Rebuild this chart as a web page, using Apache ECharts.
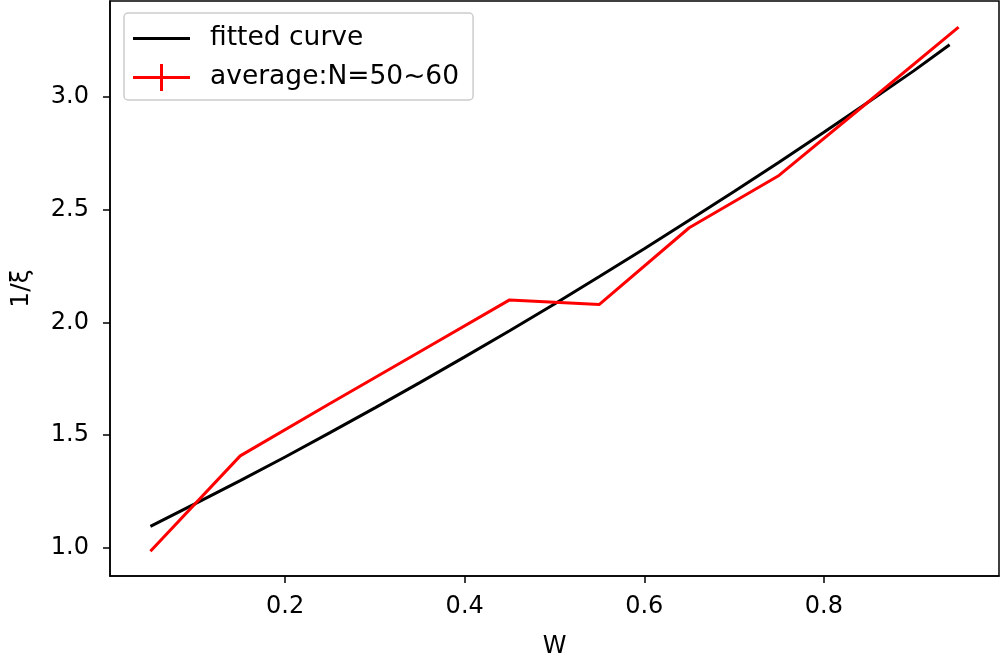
<!DOCTYPE html>
<html>
<head>
<meta charset="utf-8">
<script src="https://cdn.jsdelivr.net/npm/echarts@6/dist/echarts.min.js"></script>
<style>html,body{margin:0;padding:0;background:#fff}#c{width:1000px;height:664px}</style>
</head>
<body>
<div id="c"></div>
<script>
const fitW = [0.05, 0.10, 0.15, 0.20, 0.25, 0.30, 0.35, 0.40, 0.45, 0.50, 0.55, 0.60, 0.65, 0.70, 0.75, 0.80, 0.85, 0.90, 0.94];
const fitVal = [1.095, 1.196, 1.298, 1.403, 1.511, 1.621, 1.733, 1.847, 1.963, 2.082, 2.204, 2.327, 2.453, 2.581, 2.711, 2.844, 2.979, 3.116, 3.232];
const avgW = [0.05, 0.15, 0.25, 0.35, 0.45, 0.55, 0.65, 0.75, 0.85, 0.95];
const avgVal = [0.985, 1.408, 1.64, 1.87, 2.10, 2.08, 2.42, 2.652, 2.98, 3.31];
const xTicks = [0.2, 0.4, 0.6, 0.8];
const yTicks = [1.0, 1.5, 2.0, 2.5, 3.0];
const seriesNames = ['fitted curve', 'average:N=50~60'];

const FONT = 'DejaVu Sans';
const chart = echarts.init(document.getElementById('c'), null, {renderer: 'canvas'});
const pair = (xs, ys) => xs.map((x, i) => [x, ys[i]]);

chart.setOption({
  animation: false,
  backgroundColor: '#fff',
  textStyle: {fontFamily: FONT},
  grid: {left: 110, right: 1, top: 1, bottom: 84, show: true, borderColor: '#000', borderWidth: 1.5, containLabel: false},
  legend: {
    left: 124, top: 13,
    orient: 'vertical',
    padding: [12, 14, 9, 9],
    itemGap: 12,
    itemWidth: 57, itemHeight: 27,
    borderColor: '#cccccc', borderWidth: 1.5, borderRadius: 4,
    backgroundColor: '#fff',
    textStyle: {fontFamily: FONT, fontSize: 26.5, color: '#000', padding: [0, 0, 0, 15]},
    data: [
      {name: seriesNames[0], icon: 'path://M0,0 L0,0 Z M0,12 L57,12 L57,15 L0,15 Z M0,27 L0,27 Z'},
      {name: seriesNames[1], icon: 'path://M0,12 L27,12 L27,0 L30,0 L30,12 L57,12 L57,15 L30,15 L30,27 L27,27 L27,15 L0,15 Z'}
    ]
  },
  xAxis: {
    type: 'value', min: 0.005, max: 0.995,
    name: 'W', nameLocation: 'middle', nameGap: 59,
    nameTextStyle: {fontFamily: FONT, fontSize: 24, color: '#000'},
    splitLine: {show: false},
    axisLine: {show: true, lineStyle: {color: '#000', width: 1.5}},
    axisTick: {show: true, length: 7, lineStyle: {color: '#000', width: 1.5}, customValues: xTicks},
    axisLabel: {fontFamily: FONT, fontSize: 24, color: '#000', margin: 19, customValues: xTicks, formatter: v => v.toFixed(1)}
  },
  yAxis: {
    type: 'value', min: 0.875, max: 3.426,
    name: '1/ξ', nameLocation: 'middle', nameGap: 76,
    nameTextStyle: {fontFamily: FONT, fontSize: 25, color: '#000'},
    splitLine: {show: false},
    axisLine: {show: true, lineStyle: {color: '#000', width: 1.5}},
    axisTick: {show: true, length: 7, lineStyle: {color: '#000', width: 1.5}, customValues: yTicks},
    axisLabel: {fontFamily: FONT, fontSize: 24, color: '#000', margin: 21, customValues: yTicks, formatter: v => v.toFixed(1)}
  },
  series: [
    {name: seriesNames[0], type: 'line', data: pair(fitW, fitVal), showSymbol: false, symbol: 'none', smooth: false,
     lineStyle: {color: '#000', width: 3}, itemStyle: {color: '#000'}},
    {name: seriesNames[1], type: 'line', data: pair(avgW, avgVal), showSymbol: false, symbol: 'none', smooth: false,
     lineStyle: {color: '#ff0000', width: 3}, itemStyle: {color: '#ff0000'}}
  ]
});
</script>
</body>
</html>
